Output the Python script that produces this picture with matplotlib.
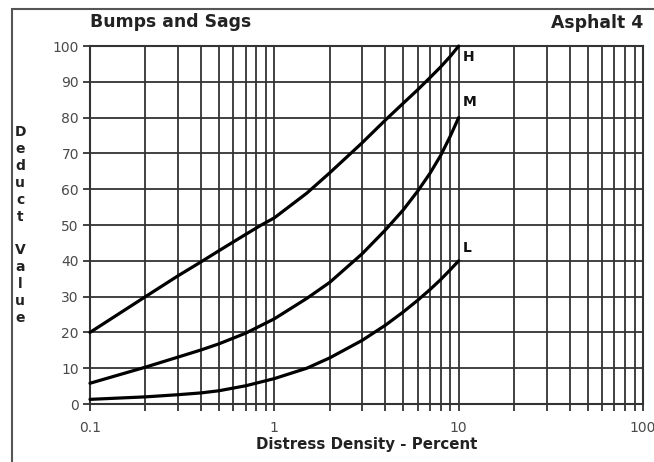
import matplotlib
matplotlib.use("Agg")
import matplotlib.pyplot as plt
import matplotlib.patches as patches
from matplotlib.ticker import FixedLocator, NullFormatter

# %% Data (x = distress density %, y = deduct value)
h_density = [0.1, 0.2, 0.3, 0.4, 0.5, 0.6, 0.7, 0.85, 1, 1.5, 2, 3, 4, 5, 6, 7, 8, 9, 10]
h_deduct = [20, 30, 35.8, 39.7, 42.8, 45.3, 47.4, 50, 52, 58.9, 64.6, 73, 79.3, 84, 87.8, 91.2, 94.2, 97.1, 100]

m_density = [0.1, 0.2, 0.3, 0.4, 0.5, 0.7, 1, 1.5, 2, 3, 4, 5, 6, 7, 8, 9, 10]
m_deduct = [5.8, 10.3, 13.1, 15.1, 16.8, 19.8, 23.8, 29.5, 34, 42, 48.6, 54.2, 59.5, 64.5, 69.5, 74.8, 80]

l_density = [0.1, 0.2, 0.3, 0.4, 0.5, 0.7, 1, 1.5, 2, 3, 4, 5, 6, 7, 8, 9, 10]
l_deduct = [1.3, 2, 2.6, 3.1, 3.7, 5.1, 7.1, 10, 12.9, 17.8, 22, 25.7, 29, 32, 34.8, 37.5, 40]

curves = [("H", h_density, h_deduct), ("M", m_density, m_deduct), ("L", l_density, l_deduct)]
label_offsets = {"H": (3, -8), "M": (3, 11), "L": (3, 9.5)}

x_ticks = [0.1, 1, 10, 100]
x_tick_labels = ["0.1", "1", "10", "100"]
y_ticks = list(range(0, 101, 10))

# %% Plot
fig = plt.figure(figsize=(6.54, 4.62), dpi=100)
ax = fig.add_axes([0.1376, 0.1255, 0.8456, 0.7749])

grid_col = "#333333"
ax.set_xscale("log")
ax.set_xlim(0.1, 100)
ax.set_ylim(0, 100)
minors = [m * d for d in (0.1, 1, 10) for m in range(2, 10)]
ax.xaxis.set_major_locator(FixedLocator(x_ticks))
ax.xaxis.set_minor_locator(FixedLocator(minors))
ax.xaxis.set_minor_formatter(NullFormatter())
ax.set_xticklabels(x_tick_labels)
ax.set_yticks(y_ticks)
ax.grid(True, which="both", axis="x", color=grid_col, lw=1.3)
ax.grid(True, which="major", axis="y", color=grid_col, lw=1.3)
ax.set_axisbelow(True)

ax.tick_params(axis="both", which="both", direction="out", color=grid_col,
               width=1.3, labelsize=10, labelcolor="#4a4a4a")
ax.tick_params(axis="x", which="both", length=5, pad=7, top=False)
ax.tick_params(axis="y", which="major", length=5, pad=3, right=False)
for s in ax.spines.values():
    s.set_color(grid_col)
    s.set_linewidth(1.5)

for name, xs, ys in curves:
    ax.plot(xs, ys, color="black", lw=2.3, solid_capstyle="round", clip_on=False, zorder=3)
    ax.annotate(name, (xs[-1], ys[-1]), xytext=label_offsets[name], textcoords="offset points",
                fontsize=10, fontweight="bold", color="#111111", ha="left", va="center")

ax.set_xlabel("Distress Density - Percent", fontsize=10.8, fontweight="bold",
              color="#222222", labelpad=2)

fig.text(0.138, 0.952, "Bumps and Sags", fontsize=12.4, fontweight="bold",
         color="#222222", ha="left", va="center")
fig.text(0.983, 0.950, "Asphalt 4", fontsize=12.4, fontweight="bold",
         color="#222222", ha="right", va="center")
fig.text(0.031, 0.513, "D\ne\nd\nu\nc\nt\n\nV\na\nl\nu\ne", fontsize=10,
         fontweight="bold", color="#222222", ha="center", va="center", linespacing=1.27)

# outer frame that runs off the right and bottom edges
fig.patches.append(patches.Rectangle((0.018, -0.05), 1.1, 0.9805 + 0.05,
                                     transform=fig.transFigure, fill=False,
                                     edgecolor="#555555", lw=1.5, clip_on=False))

plt.savefig("out.png", dpi=100)
